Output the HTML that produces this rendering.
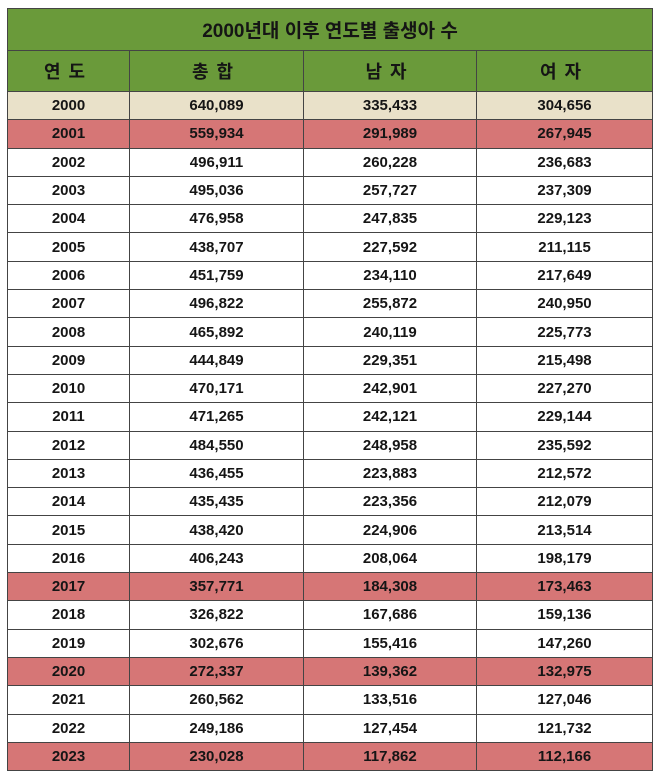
<!DOCTYPE html>
<html><head><meta charset="utf-8"><style>
body{margin:0;width:658px;height:776px;background:#fff;font-family:"Liberation Sans","Noto Sans CJK KR",sans-serif;}
table{position:absolute;left:7px;top:8px;border-collapse:collapse;table-layout:fixed;width:645px;}
td{border:1px solid #444;text-align:center;padding:0;font-size:15px;font-weight:bold;color:#151515;height:27.3px;}
.title td{background:#6a9a3a;height:41px;font-size:19px;font-weight:bold;}
.hdr td{background:#6a9a3a;height:40px;font-size:18px;font-weight:bold;letter-spacing:8px;}
tr.beige td{background:#e9e1c9;}
tr.red td{background:#d67676;}
</style></head><body>
<table>
<colgroup><col style="width:122px"><col style="width:174px"><col style="width:173px"><col style="width:176px"></colgroup>
<tr class="title"><td colspan="4">2000년대 이후 연도별 출생아 수</td></tr>
<tr class="hdr"><td>연도</td><td>총합</td><td>남자</td><td>여자</td></tr>
<tbody id="body"></tbody>
</table>
<script>
const years=[2000,2001,2002,2003,2004,2005,2006,2007,2008,2009,2010,2011,2012,2013,2014,2015,2016,2017,2018,2019,2020,2021,2022,2023];
const totals=[640089,559934,496911,495036,476958,438707,451759,496822,465892,444849,470171,471265,484550,436455,435435,438420,406243,357771,326822,302676,272337,260562,249186,230028];
const males=[335433,291989,260228,257727,247835,227592,234110,255872,240119,229351,242901,242121,248958,223883,223356,224906,208064,184308,167686,155416,139362,133516,127454,117862];
const females=[304656,267945,236683,237309,229123,211115,217649,240950,225773,215498,227270,229144,235592,212572,212079,213514,198179,173463,159136,147260,132975,127046,121732,112166];
const redYears=[2001,2017,2020,2023];
const tb=document.getElementById('body');
const fmt=n=>n.toLocaleString('en-US');
years.forEach((y,i)=>{
  const tr=document.createElement('tr');
  
  
  if(y===2000)tr.className='beige';else if(redYears.includes(y))tr.className='red';
  [[y,'year'],[fmt(totals[i]),'total'],[fmt(males[i]),'male'],[fmt(females[i]),'female']].forEach(([v,k])=>{
    const td=document.createElement('td');
    
    
    td.textContent=v;tr.appendChild(td);
  });
  tb.appendChild(tr);
});
</script>
</body></html>
